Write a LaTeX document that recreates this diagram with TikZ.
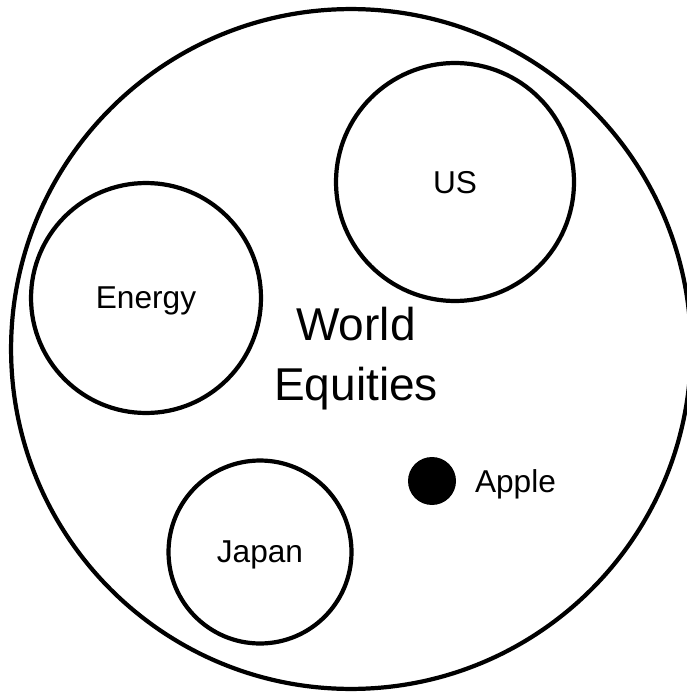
\documentclass[tikz,border=0pt]{standalone}
\usepackage{fontspec}
\setmainfont{Liberation Sans}
\usetikzlibrary{positioning}

\begin{document}
\begin{tikzpicture}[
  x=0.02cm, y=-0.02cm,
  every node/.style={font=\fontsize{18}{22}\selectfont, text depth=0pt},
  ring/.style={circle, draw, line width=2.4pt, inner sep=0pt},
  dot/.style={circle, fill=black, inner sep=0pt, minimum size=0.96cm}
]
\useasboundingbox (0,0) rectangle (686,692);
% the whole universe
\node[ring, minimum size=13.6cm] (world) at (351,349) {};
\node[align=center, font=\fontsize{26.2}{34}\selectfont] (worldlabel) at (356,354) {World\\Equities};
% subsets
\node[ring, minimum size=4.76cm] (us) at (455,182) {US};
\node[ring, minimum size=4.6cm] (energy) at (146,298) {Energy};
\node[ring, minimum size=3.66cm] (japan) at (260,552) {Japan};
% a single stock
\node[dot] (apple) at (432,481) {};
\node[right=0.25cm of apple] (applelabel) {Apple};
\end{tikzpicture}
\end{document}
